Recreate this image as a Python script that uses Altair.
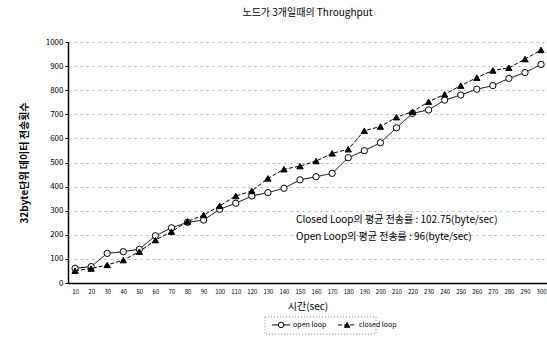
import altair as alt
import pandas as pd

times = list(range(10, 310, 10))
open_loop = [61, 68, 123, 130, 140, 196, 229, 252, 261, 306, 331, 361, 375, 393, 428,
             441, 455, 520, 549, 582, 644, 704, 718, 759, 780, 804, 819, 849, 873, 907]
closed_loop = [51, 60, 75, 95, 130, 178, 213, 255, 282, 320, 361, 382, 434, 472, 485,
               506, 538, 555, 632, 649, 688, 711, 752, 783, 819, 852, 882, 893, 929, 967]
series_names = ["open loop", "closed loop"]
notes = ["Closed Loop의 평균 전송률 : 102.75(byte/sec)",
         "Open Loop의 평균 전송률 : 96(byte/sec)"]
note_x = [147.5, 147.5]
note_y = [261, 191]

# legend entries, placed below the axis in data units
leg_line_x1 = [132.6, 173.7]
leg_line_x2 = [143.8, 184.9]
leg_sym_x = [138.2, 179.3]
leg_text_x = [145.7, 186.7]
leg_y = [-174, -174]
leg_box_x = [128.2, 197.3]
leg_box_y = [-141, -212]

rows = []
for t, v in zip(times, open_loop):
    rows.append({"time": t, "value": v, "series": series_names[0]})
for t, v in zip(times, closed_loop):
    rows.append({"time": t, "value": v, "series": series_names[1]})
df = pd.DataFrame(rows)
notes_df = pd.DataFrame({"text": notes, "x": note_x, "y": note_y})
leg_df = pd.DataFrame({"series": series_names, "x1": leg_line_x1, "x2": leg_line_x2,
                       "xs": leg_sym_x, "xt": leg_text_x, "y": leg_y})
box_df = pd.DataFrame({"x1": [leg_box_x[0]], "x2": [leg_box_x[1]],
                       "y1": [leg_box_y[0]], "y2": [leg_box_y[1]]})

FONT = "Noto Sans CJK KR"

xscale = alt.Scale(domain=[5.6, 303.7], nice=False, zero=False)
yscale = alt.Scale(domain=[0, 1000], nice=False)

x_axis = alt.Axis(values=times, title="시간(sec)", labelFontSize=6,
                  labelColor="black", tickSize=0, labelPadding=5,
                  labelOverlap=False, format="d",
                  grid=False, domainColor="black", domainWidth=1.5,
                  titleFontSize=10, titleFontWeight="normal",
                  titleColor="black", titlePadding=7, labelFlush=False)
y_axis = alt.Axis(values=list(range(0, 1001, 100)), format="d",
                  labelOverlap=False,
                  title="32byte단위 데이터 전송횟수", labelFontSize=8,
                  labelColor="black", tickSize=3, tickColor="black",
                  grid=True, gridColor="#999999", gridDash=[2, 4],
                  gridWidth=0.8, domainColor="black", domainWidth=1.5,
                  titleFontSize=10, titleFontWeight="bold",
                  titleColor="black", titlePadding=16)

def X(field):
    return alt.X(field, scale=xscale, axis=x_axis)

def Y(field):
    return alt.Y(field, scale=yscale, axis=y_axis)

dash = alt.StrokeDash("series:N", scale=alt.Scale(domain=series_names, range=[[1, 0], [4, 2]]), legend=None)
shape = alt.Shape("series:N", scale=alt.Scale(domain=series_names, range=["circle", "triangle-up"]), legend=None)
fill = alt.Fill("series:N", scale=alt.Scale(domain=series_names, range=["white", "black"]), legend=None)

lines = alt.Chart(df).mark_line(strokeWidth=1, color="black").encode(
    x=X("time:Q"), y=Y("value:Q"), strokeDash=dash)

points = alt.Chart(df).mark_point(size=40, strokeWidth=1, opacity=1, filled=False, stroke="black").encode(
    x=X("time:Q"), y=Y("value:Q"), shape=shape, fill=fill)

texts = alt.Chart(notes_df).mark_text(align="left", baseline="middle", fontSize=10, font=FONT, color="black").encode(
    x=X("x:Q"), y=Y("y:Q"), text="text:N")

leg_box = alt.Chart(box_df).mark_rect(fill="white", stroke="#888888", strokeDash=[1, 2], strokeWidth=1).encode(
    x=X("x1:Q"), x2="x2:Q", y=Y("y1:Q"), y2="y2:Q")

leg_lines = alt.Chart(leg_df).mark_rule(strokeWidth=1, color="black").encode(
    x=X("x1:Q"), x2="x2:Q", y=Y("y:Q"), strokeDash=dash)

leg_points = alt.Chart(leg_df).mark_point(size=30, strokeWidth=1, opacity=1, filled=False, stroke="black").encode(
    x=X("xs:Q"), y=Y("y:Q"), shape=shape, fill=fill)

leg_texts = alt.Chart(leg_df).mark_text(align="left", baseline="middle", fontSize=7, font=FONT, color="black").encode(
    x=X("xt:Q"), y=Y("y:Q"), text="series:N")

chart = alt.layer(lines, points, texts, leg_box, leg_lines, leg_points, leg_texts).properties(
    width=479, height=241,
    title=alt.TitleParams("노드가 3개일때의 Throughput", fontSize=10, fontWeight="normal",
                          font=FONT, color="black", anchor="middle", offset=20),
    padding={"left": 68, "top": 42, "right": 0, "bottom": 55},
    autosize=alt.AutoSizeParams(type="none"),
    background="white",
).configure_view(stroke=None).configure_axis(labelFont=FONT, titleFont=FONT)

chart.save("out.html", embed_options={"renderer": "svg", "actions": False})
